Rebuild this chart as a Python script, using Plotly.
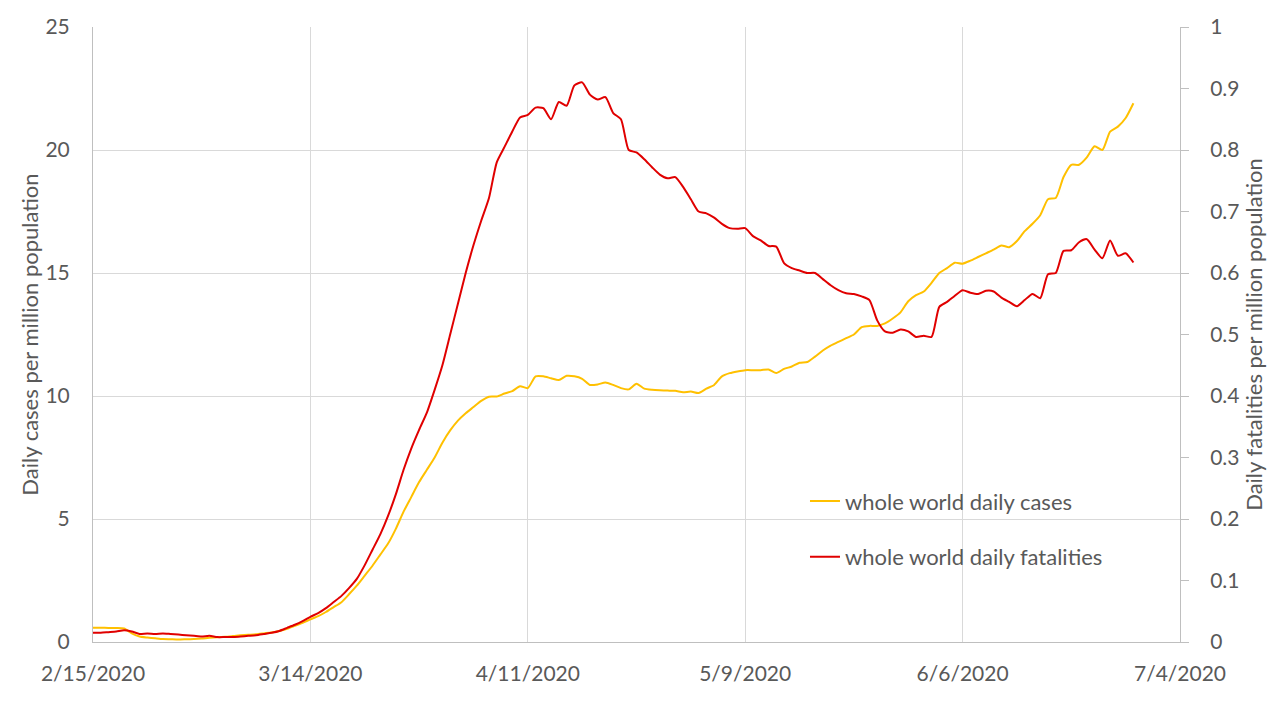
import plotly.graph_objects as go
import pandas as pd

start_date = "2020-02-15"
n_days = 135

cases = [
    0.58, 0.58, 0.57, 0.57, 0.55, 0.35, 0.22, 0.18, 0.15, 0.12,
    0.11, 0.10, 0.11, 0.12, 0.14, 0.17, 0.19, 0.21, 0.24, 0.27,
    0.29, 0.31, 0.35, 0.39, 0.45, 0.54, 0.66, 0.78, 0.92, 1.05,
    1.22, 1.42, 1.62, 1.95, 2.3, 2.7, 3.1, 3.55, 4.0, 4.6,
    5.3, 5.9, 6.5, 7.0, 7.5, 8.1, 8.6, 9.0, 9.3, 9.55,
    9.8, 9.97, 9.98, 10.1, 10.2, 10.4, 10.32, 10.8, 10.8, 10.72,
    10.65, 10.82, 10.8, 10.7, 10.45, 10.47, 10.55, 10.45, 10.32, 10.27,
    10.5, 10.3, 10.25, 10.23, 10.22, 10.21, 10.15, 10.18, 10.12, 10.3,
    10.45, 10.8, 10.93, 11.0, 11.05, 11.05, 11.05, 11.08, 10.93, 11.1,
    11.2, 11.35, 11.38, 11.6, 11.85, 12.05, 12.2, 12.35, 12.5, 12.8,
    12.85, 12.85, 12.95, 13.15, 13.4, 13.85, 14.1, 14.25, 14.6, 15.0,
    15.2, 15.42, 15.38, 15.5, 15.65, 15.8, 15.95, 16.12, 16.05, 16.3,
    16.7, 17.0, 17.35, 18.0, 18.05, 18.9, 19.4, 19.4, 19.7, 20.15,
    20.0, 20.75, 20.95, 21.3, 21.9,
]

fatalities = [
    0.015, 0.015, 0.016, 0.017, 0.019, 0.017, 0.013, 0.014, 0.013, 0.014,
    0.013, 0.012, 0.011, 0.010, 0.009, 0.010, 0.008, 0.008, 0.008, 0.009,
    0.010, 0.011, 0.013, 0.015, 0.018, 0.023, 0.028, 0.034, 0.041, 0.047,
    0.055, 0.065, 0.075, 0.088, 0.103, 0.125, 0.15, 0.175, 0.205, 0.24,
    0.28, 0.315, 0.345, 0.373, 0.41, 0.45, 0.5, 0.55, 0.6, 0.645,
    0.685, 0.722, 0.78, 0.805, 0.83, 0.853, 0.857, 0.869, 0.868, 0.85,
    0.878, 0.872, 0.905, 0.91, 0.89, 0.882, 0.886, 0.86, 0.85, 0.8,
    0.796, 0.785, 0.772, 0.76, 0.754, 0.756, 0.74, 0.72, 0.7, 0.697,
    0.69, 0.68, 0.673, 0.672, 0.673, 0.66, 0.653, 0.644, 0.643, 0.616,
    0.608, 0.604, 0.6, 0.6, 0.59, 0.58, 0.572, 0.567, 0.566, 0.562,
    0.556, 0.523, 0.505, 0.503, 0.508, 0.505, 0.496, 0.498, 0.496, 0.545,
    0.553, 0.563, 0.572, 0.568, 0.566, 0.571, 0.57, 0.56, 0.553, 0.546,
    0.556, 0.566, 0.559, 0.598, 0.6, 0.636, 0.637, 0.65, 0.655, 0.638,
    0.624, 0.653, 0.628, 0.632, 0.617,
]

x_tick_dates = ["2020-02-15", "2020-03-14", "2020-04-11", "2020-05-09", "2020-06-06", "2020-07-04"]
x_tick_labels = ["2/15/2020", "3/14/2020", "4/11/2020", "5/9/2020", "6/6/2020", "7/4/2020"]
left_ticks = [0, 5, 10, 15, 20, 25]
right_ticks = [0, 0.1, 0.2, 0.3, 0.4, 0.5, 0.6, 0.7, 0.8, 0.9, 1]
right_tick_labels = ["0", "0.1", "0.2", "0.3", "0.4", "0.5", "0.6", "0.7", "0.8", "0.9", "1"]

dates = pd.date_range(start_date, periods=n_days, freq="D")

FONT = "Lato, Calibri, Carlito, sans-serif"
TXT = "#595959"
GRID = "#d9d9d9"
AXLINE = "#bfbfbf"

fig = go.Figure()
fig.add_trace(go.Scatter(
    x=dates, y=cases, name="whole world daily cases", mode="lines",
    line=dict(color="#ffc000", width=2, shape="spline", smoothing=0.6),
    legendgroup="a", yaxis="y",
))
fig.add_trace(go.Scatter(
    x=dates, y=fatalities, name="whole world daily fatalities", mode="lines",
    line=dict(color="#e00000", width=2, shape="spline", smoothing=0.6),
    legendgroup="b", yaxis="y2",
))

fig.update_layout(
    width=1280, height=720,
    paper_bgcolor="white", plot_bgcolor="white",
    margin=dict(l=85, r=108, t=19, b=86, autoexpand=False),
    font=dict(family=FONT, size=21, color=TXT),
    showlegend=True,
    legend=dict(
        x=0.655, y=0.263, xanchor="left", yanchor="top",
        bgcolor="rgba(0,0,0,0)", font=dict(size=22, color=TXT),
        tracegroupgap=24, itemwidth=30,
    ),
    xaxis=dict(
        type="date", automargin=False,
        range=["2020-02-15", "2020-07-04"],
        tickmode="array", tickvals=x_tick_dates, ticktext=x_tick_labels,
        showgrid=True, gridcolor=GRID, gridwidth=1,
        showline=True, linecolor=AXLINE, linewidth=1,
        ticks="", ticklabelstandoff=13, tickfont=dict(size=21, color=TXT),
        zeroline=False,
    ),
    yaxis=dict(
        range=[0, 25], tickmode="array", tickvals=left_ticks, automargin=False,
        showgrid=True, gridcolor=GRID, gridwidth=1,
        showline=True, linecolor=AXLINE, linewidth=1,
        ticks="", ticklabelstandoff=18,
        tickfont=dict(size=21, color=TXT),
        title=dict(text="Daily cases per million population", font=dict(size=22, color=TXT), standoff=0),
        zeroline=False,
    ),
    yaxis2=dict(
        range=[0, 1], tickmode="array", tickvals=right_ticks, ticktext=right_tick_labels,
        overlaying="y", side="right", automargin=False,
        showgrid=False,
        showline=True, linecolor=AXLINE, linewidth=1,
        ticks="outside", ticklen=8, tickcolor=AXLINE, ticklabelstandoff=17,
        tickfont=dict(size=21, color=TXT),
        title=dict(text="Daily fatalities per million population", font=dict(size=22, color=TXT), standoff=6),
        zeroline=False,
    ),
)

fig.write_html("out.html")
